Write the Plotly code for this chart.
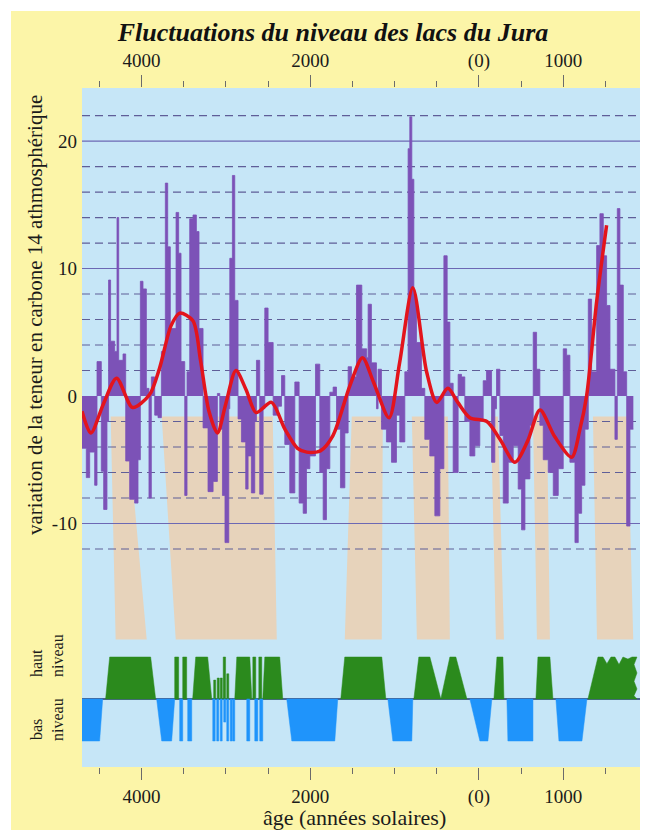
import plotly.graph_objects as go

# ------------------------------------------------------------------ data
# Atmospheric 14C variation: step series (value holds from each year to the next)
C14_YEARS = [-4705, -4654, -4614, -4555, -4527, -4476, -4448, -4409, -4390, -4366,
             -4318, -4290, -4270, -4219, -4187, -4140, -4081, -4041, -4013, -3982,
             -3942, -3911, -3883, -3843, -3804, -3764, -3717, -3689, -3658, -3590,
             -3559, -3531, -3487, -3460, -3428, -3389, -3349, -3318, -3270, -3211,
             -3151, -3100, -3072, -3040, -3010, -2965, -2953, -2922, -2894, -2855,
             -2815, -2764, -2736, -2697, -2657, -2637, -2598, -2558, -2538, -2499,
             -2439, -2380, -2340, -2301, -2242, -2182, -2131, -2083, -2044, -2004,
             -1937, -1886, -1846, -1807, -1767, -1728, -1688, -1641, -1589, -1550,
             -1510, -1451, -1388, -1330, -1313, -1274, -1214, -1195, -1155, -1096,
             -1036, -977, -938, -878, -839, -819, -795, -771, -740, -681,
             -641, -582, -522, -463, -415, -376, -344, -305, -246, -206,
             -167, -107, -48, 11, 51, 90, 150, 189, 209, 249,
             289, 348, 407, 466, 506, 546, 605, 644, 684, 723,
             763, 822, 882, 941, 1000, 1040, 1079, 1139, 1178, 1218,
             1257, 1297, 1336, 1396, 1435, 1475, 1514, 1554, 1613, 1641,
             1672, 1712, 1752, 1791]
C14_VALUES = [-4.1, -6.4, -4.4, -7.0, 2.7, -5.9, -8.9, -2.0, 9.1, 4.3,
              3.5, 14.0, 2.8, 3.3, -5.1, -8.1, -8.4, -5.0, 9.0, 8.4,
              0.6, -8.0, 1.5, -1.5, -1.7, 3.5, 16.7, 11.7, 5.3, 14.4,
              11.2, 2.7, -7.8, 1.9, 13.9, 14.2, 12.9, 5.3, -2.5, -7.5,
              -6.7, 0.2, -2.6, -7.8, -11.5, -1.0, 10.8, 17.3, 7.5, -1.8,
              -3.6, -7.3, -4.7, -7.6, -2.0, 2.8, -7.7, -1.0, 6.9, 4.2,
              -1.5, -0.8, 1.6, -3.8, -7.6, 1.1, -8.4, -9.2, -5.7, -4.7,
              2.5, -6.0, -9.7, -5.7, 0.3, 0.7, -2.6, -7.2, -2.9, 2.3,
              1.5, 8.7, 3.7, 3.0, 7.2, 2.6, -1.0, 2.1, -2.6, -3.6,
              -5.2, -1.5, -3.6, 1.9, 19.4, 21.9, 17.0, 7.9, 4.2, 0.6,
              -3.4, -4.7, -9.4, -5.7, 11.0, 5.8, 1.0, -6.0, 1.7, 1.5,
              -2.0, -4.7, -3.9, -2.0, 1.2, 2.0, -5.2, -1.0, 2.1, -3.1,
              -8.4, -5.2, -3.9, -7.3, -10.5, -6.5, -2.3, 5.0, 2.1, -2.3,
              -5.0, -6.0, -7.8, -5.7, 3.7, 3.2, -5.2, -11.5, -9.2, -7.0,
              -2.6, 7.6, 1.9, 11.8, 14.3, 11.0, 7.1, 2.1, -3.4, 14.7,
              8.7, 1.9, -10.2, -2.6]
C14_END = 1831

# Smoothed 14C curve (red)
SMOOTH_YEARS = [-4705, -4600, -4450, -4295, -4105, -3905, -3785, -3650, -3547, -3390,
                -3300, -3200, -3100, -3000, -2880, -2760, -2640, -2460, -2300, -2150,
                -2040, -1880, -1730, -1530, -1380, -1250, -1065, -940, -783, -620,
                -500, -368, -250, -107, 95, 250, 427, 580, 724, 900,
                1100, 1198, 1277, 1396, 1514]
SMOOTH_VALUES = [-1.2, -2.9, -0.6, 1.4, -0.9, 0.1, 2.2, 5.5, 6.5, 5.9,
                 2.8, -1.2, -2.9, -0.6, 2.0, 0.5, -1.3, -0.5, -2.6, -4.1,
                 -4.4, -4.3, -3.1, 0.8, 3.0, 1.1, -1.7, 2.6, 8.5, 1.9,
                 -0.5, 0.6, -0.5, -1.7, -2.0, -3.4, -5.2, -3.5, -1.1, -3.2,
                 -4.8, -2.6, 0.0, 7.4, 13.4]

# Connectors from the 14C record to the high-lake phases (years)
TAN_TOP_LEFT = [-4365, -3760, -1507, -795, 142, 641, 1352]
TAN_TOP_RIGHT = [-4176, -2444, -1139, -368, 225, 807, 1760]
TAN_BOTTOM_LEFT = [-4306, -3594, -1590, -735, 202, 688, 1400]
TAN_BOTTOM_RIGHT = [-3938, -2396, -1151, -344, 297, 842, 1830]

# Lake-level phases: outline vertices (years) and level (1 = high, -1 = low)
HIGH_X = [
    [-4425, -4377, -3891, -3832],
    [-3606, -3606, -3559, -3559],
    [-3511, -3511, -3464, -3464],
    [-3393, -3357, -3215, -3167],
    [-3144, -3144, -3120, -3120],
    [-3102, -3102, -3078, -3078],
    [-3066, -3066, -3042, -3042],
    [-3031, -3031, -3003, -3003],
    [-2989, -2989, -2965, -2965],
    [-2894, -2870, -2716, -2692],
    [-2680, -2680, -2645, -2645],
    [-2609, -2609, -2574, -2574],
    [-2562, -2538, -2361, -2325],
    [-1637, -1590, -1151, -1103],
    [-771, -712, -581, -451],
    [-451, -344, -273, -142],
    [178, 214, 285, 297],
    [676, 700, 842, 878],
    [1293, 1412, 1471, 1518, 1566, 1613, 1661, 1708, 1767, 1815, 1874,
     1839, 1874, 1839, 1874, 1839, 1874],
]
HIGH_L = [
    [0, 1, 1, 0],
    [0, 1, 1, 0],
    [0, 1, 1, 0],
    [0, 1, 1, 0],
    [0, 0.45, 0.45, 0],
    [0, 0.5, 0.5, 0],
    [0, 0.5, 0.5, 0],
    [0, 1, 1, 0],
    [0, 0.6, 0.6, 0],
    [0, 1, 1, 0],
    [0, 1, 1, 0],
    [0, 1, 1, 0],
    [0, 1, 1, 0],
    [0, 1, 1, 0],
    [0, 1, 1, 0],
    [0, 1, 1, 0],
    [0, 1, 1, 0],
    [0, 1, 1, 0],
    [0, 1, 1, 0.84, 1, 1, 0.82, 1, 0.95, 1, 1,
     0.82, 0.62, 0.42, 0.24, 0.08, 0],
]
LOW_X = [
    [-4720, -4720, -4496, -4460],
    [-3820, -3760, -3642, -3606],
    [-3547, -3547, -3511, -3511],
    [-3452, -3452, -3404, -3404],
    [-3155, -3155, -3126, -3126],
    [-3108, -3108, -3084, -3084],
    [-3066, -3066, -3043, -3043],
    [-3025, -3025, -3001, -3001],
    [-2989, -2989, -2966, -2966],
    [-2948, -2948, -2924, -2924],
    [-2918, -2918, -2894, -2894],
    [-2752, -2752, -2716, -2716],
    [-2657, -2657, -2621, -2621],
    [-2598, -2598, -2562, -2562],
    [-2278, -2218, -1708, -1673],
    [-1079, -1020, -795, -783],
    [-107, 12, 107, 154],
    [332, 344, 641, 641],
    [913, 949, 1222, 1281],
]
LOW_L = [
    [0, -1, -1, 0],
    [0, -1, -1, 0],
    [0, -1, -1, 0],
    [0, -1, -1, 0],
    [0, -1, -1, 0],
    [0, -1, -1, 0],
    [0, -1, -1, 0],
    [0, -0.55, -0.55, 0],
    [0, -1, -1, 0],
    [0, -1, -1, 0],
    [0, -1, -1, 0],
    [0, -1, -1, 0],
    [0, -1, -1, 0],
    [0, -1, -1, 0],
    [0, -1, -1, 0],
    [0, -1, -1, 0],
    [0, -1, -1, 0],
    [0, -1, -1, 0],
    [0, -1, -1, 0],
]

# Axis ticks
X_MAJOR = [-4000, -2000, 0, 1000]
X_MAJOR_TEXT = ["4000", "2000", "(0)", "1000"]
X_MINOR = [-4500, -3500, -3000, -2500, -1500, -1000, -500, 500, 1500]
Y_TICKS = [-10, 0, 10, 20]
Y_TICK_TEXT = ["-10", "0", "10", "20"]
GRID_SOLID = [-10, 10, 20]
GRID_DASHED = [-12, -8, -6, -4, -2, 2, 4, 6, 8, 12, 14, 16, 18, 22]

# ------------------------------------------------------------------ style
X_RANGE = [-4705, 1910]
Y_RANGE = [-29.10, 24.16]
LAKE_RANGE = [-1.619, 14.548]
TAN_TOP, TAN_BOTTOM = -1.6, -19.1

# The page body adds an 8px white margin at top/left; the figure fills the rest.
OFF = 8
W, H = 648 - OFF, 830 - OFF
ML, MR, MT, MB = 82 - OFF, 8, 88 - OFF, 63
PW, PH = W - ML - MR, H - MT - MB
BORDER = 3


def px_x(page_x):
    return (page_x - OFF - ML) / PW


def px_y(page_y):
    return (H - MB - (page_y - OFF)) / PH


SERIF = "Liberation Serif"
PAGE_YELLOW = "#fcf5a8"
PLOT_BLUE = "#c6e6f7"
PURPLE = "#7c52b7"
RED = "#e3141c"
TAN = "#e7d3bb"
GREEN = "#2b8a1d"
LAKE_BLUE = "#1f94fb"
GRID_COLOR = "#6c68b4"
DASH_COLOR = "#5f5e98"
TEXT = "#1b1b1b"
TICK_COLOR = "#6b6b6b"

fig = go.Figure()

# tan connectors
tx, ty = [], []
for tl, tr, bl, br in zip(TAN_TOP_LEFT, TAN_TOP_RIGHT, TAN_BOTTOM_LEFT, TAN_BOTTOM_RIGHT):
    tx += [tl, tr, br, bl, tl, None]
    ty += [TAN_TOP, TAN_TOP, TAN_BOTTOM, TAN_BOTTOM, TAN_TOP, None]
fig.add_trace(go.Scatter(x=tx, y=ty, mode="lines", fill="toself", fillcolor=TAN,
                         line=dict(width=0, color=TAN), hoverinfo="skip"))

# grid lines (drawn over the connectors, under the record)
gx, gy = [], []
for v in GRID_DASHED:
    gx += [X_RANGE[0], X_RANGE[1], None]
    gy += [v, v, None]
fig.add_trace(go.Scatter(x=gx, y=gy, mode="lines", hoverinfo="skip",
                         line=dict(color=DASH_COLOR, width=1.2, dash="8px,5px")))
sx, sy = [], []
for v in GRID_SOLID:
    sx += [X_RANGE[0], X_RANGE[1], None]
    sy += [v, v, None]
fig.add_trace(go.Scatter(x=sx, y=sy, mode="lines", hoverinfo="skip",
                         line=dict(color=GRID_COLOR, width=1.2)))

# 14C record (step bars)
fig.add_trace(go.Scatter(x=C14_YEARS + [C14_END], y=C14_VALUES + [C14_VALUES[-1]],
                         mode="lines", line=dict(shape="hv", width=0.8, color=PURPLE),
                         fill="tozeroy", fillcolor=PURPLE))

# smoothed curve
fig.add_trace(go.Scatter(x=SMOOTH_YEARS, y=SMOOTH_VALUES, mode="lines",
                         line=dict(shape="spline", smoothing=0.8, width=3.5, color=RED)))

# lake levels
def polys(xs, ls):
    px, py = [], []
    for x, l in zip(xs, ls):
        px += x + [x[0], None]
        py += l + [l[0], None]
    return px, py

hx, hy = polys(HIGH_X, HIGH_L)
fig.add_trace(go.Scatter(x=hx, y=hy, yaxis="y2", mode="lines", fill="toself",
                         fillcolor=GREEN, line=dict(width=0.5, color=GREEN), hoverinfo="skip"))
lx, ly = polys(LOW_X, LOW_L)
fig.add_trace(go.Scatter(x=lx, y=ly, yaxis="y2", mode="lines", fill="toself",
                         fillcolor=LAKE_BLUE, line=dict(width=0.5, color=LAKE_BLUE), hoverinfo="skip"))

# invisible trace to carry the top axis
fig.add_trace(go.Scatter(x=X_RANGE, y=[None, None], xaxis="x2", mode="lines", hoverinfo="skip"))

xcommon = dict(range=X_RANGE, tickmode="array", tickvals=X_MAJOR, ticktext=X_MAJOR_TEXT,
               ticks="outside", ticklen=12, tickwidth=1.2, tickcolor=TICK_COLOR,
               showgrid=False, zeroline=False, showline=False, automargin=False,
               tickfont=dict(family=SERIF, size=19, color=TEXT),
               minor=dict(tickvals=X_MINOR, ticks="outside", ticklen=6,
                          tickwidth=1.2, tickcolor=TICK_COLOR, showgrid=False))


def side_label(text, page_x, page_y_center):
    # rotated word reading upward
    return dict(text=text, xref="paper", yref="paper", x=px_x(page_x), y=px_y(page_y_center),
                textangle=-90, showarrow=False, xanchor="center", yanchor="middle",
                font=dict(family=SERIF, size=16, color=TEXT))


fig.update_layout(
    width=W, height=H,
    margin=dict(l=ML, r=MR, t=MT, b=MB, autoexpand=False),
    paper_bgcolor=PAGE_YELLOW,
    plot_bgcolor=PLOT_BLUE,
    showlegend=False,
    title=dict(text="<b><i>Fluctuations du niveau des lacs du Jura</i></b>",
               x=(333 - OFF) / W, xanchor="center", xref="container",
               y=1 - (32 - OFF) / H, yanchor="middle", yref="container", automargin=False,
               font=dict(family=SERIF, size=26, color="#111111")),
    xaxis=dict(**xcommon, anchor="y", side="bottom"),
    xaxis2=dict(**xcommon, overlaying="x", side="top", anchor="y"),
    yaxis=dict(range=Y_RANGE, tickmode="array", tickvals=Y_TICKS, ticktext=Y_TICK_TEXT,
               automargin=False, ticks="", ticklabelstandoff=4,
               showgrid=False, zeroline=False, showline=False,
               tickfont=dict(family=SERIF, size=19, color=TEXT)),
    yaxis2=dict(range=LAKE_RANGE, overlaying="y", showticklabels=False, ticks="",
                automargin=False, showgrid=False, zeroline=True, zerolinecolor="#4a6390",
                zerolinewidth=1.5, showline=False),
    shapes=[
        # a little extra white border of the scanned page (top and left)
        dict(type="rect", xref="paper", yref="paper",
             x0=-ML / PW, x1=1 + MR / PW, y0=1 + (MT - BORDER) / PH, y1=1 + MT / PH,
             fillcolor="white", line=dict(width=0), layer="below"),
        dict(type="rect", xref="paper", yref="paper",
             x0=-ML / PW, x1=(BORDER - ML) / PW, y0=-MB / PH, y1=1 + MT / PH,
             fillcolor="white", line=dict(width=0), layer="below"),
    ],
    annotations=[
        dict(text="variation de la teneur en carbone 14 athmosphérique",
             xref="paper", yref="paper", x=px_x(35), y=px_y(315),
             textangle=-90, showarrow=False, xanchor="center", yanchor="middle",
             font=dict(family=SERIF, size=21, color=TEXT)),
        dict(text="âge (années solaires)", xref="paper", yref="paper",
             x=px_x(354), y=px_y(817), showarrow=False,
             xanchor="center", yanchor="middle",
             font=dict(family=SERIF, size=22, color=TEXT)),
        side_label("haut", 36, 663),
        side_label("niveau", 57, 656),
        side_label("bas", 36, 730),
        side_label("niveau", 57, 720),
    ],
)

fig.write_html("out.html")
